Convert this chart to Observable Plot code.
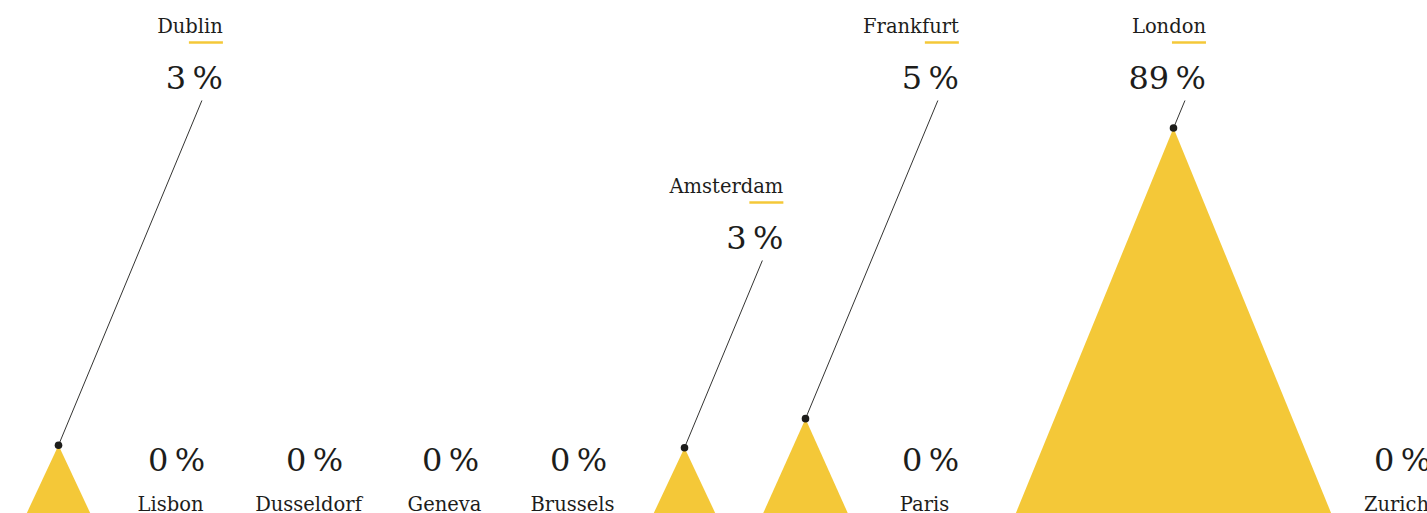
<!DOCTYPE html>
<html>
<head>
<meta charset="utf-8">
<script src="https://cdn.jsdelivr.net/npm/d3@7"></script>
<script src="https://cdn.jsdelivr.net/npm/@observablehq/plot@0.6"></script>
<style>
  html, body { margin: 0; padding: 0; background: #fff; overflow: hidden; }
  #chart svg { display: block; }
</style>
</head>
<body>
<div id="chart"></div>
<script>
// ---- data ----
const cities = ["Dublin", "Lisbon", "Dusseldorf", "Geneva", "Brussels", "Amsterdam", "Frankfurt", "Paris", "London", "Zurich"];
const shares = [2.8, 0, 0, 0, 0, 2.6, 5.4, 0, 89.2, 0];            // share in %
const track = [58, 170, 308, 444, 572, 684, 805, 924, 1173, 1396];  // position along the row
const labelTier = [1, 0, 0, 0, 0, 2, 1, 0, 1, 0];                   // 0 = label below, 1 = top row, 2 = second row

// ---- styling / layout constants ----
const W = 1427, H = 513;
const GOLD = "#F4C838";
const INK = "#1d1d1b";
const FONT = "DejaVu Serif";
const tierTop = {1: 100, 2: 260};   // leader line top (pixel rows)
const leaderSlope = 0.416;          // leader lines parallel to the triangle flank

const yScale = Plot.scale({y: {type: "sqrt", domain: [0, 158], range: [H, 0]}});

const rows = cities.map((city, i) => ({city, share: shares[i], track: track[i], tier: labelTier[i]}));
const peaks = rows.filter(d => d.share > 0).map(d => {
  const apexPx = yScale.apply(d.share);
  const topPx = tierTop[d.tier];
  return {...d, topX: d.track + leaderSlope * (apexPx - topPx), topY: yScale.invert(topPx)};
});
const flat = rows.filter(d => d.share === 0);

// triangle vertices (half base grows with sqrt of share)
const tri = peaks.flatMap(d => {
  const hw = 16.2 * Math.sqrt(d.share) + 4.8;
  return [
    {city: d.city, x: d.track - hw, y: 0},
    {city: d.city, x: d.track, y: d.share},
    {city: d.city, x: d.track + hw, y: 0}
  ];
});

const pct = d => `${Math.round(d.share)}\u2009%`;

const chart = Plot.plot({
  width: W,
  height: H,
  margin: 0,
  x: {domain: [0, W], range: [0, W], axis: null},
  y: {type: "sqrt", domain: [0, 158], range: [H, 0], axis: null},
  style: {fontFamily: FONT, color: INK, background: "#fff", overflow: "visible"},
  marks: [
    Plot.line(tri, {x: "x", y: "y", z: "city", fill: GOLD, stroke: "none", curve: "linear"}),
    Plot.link(peaks, {x1: "track", y1: "share", x2: "topX", y2: "topY", stroke: INK, strokeWidth: 0.9}),
    Plot.dot(peaks, {x: "track", y: "share", r: 3.8, fill: INK, stroke: "none"}),
    Plot.text(peaks, {x: "topX", y: "topY", text: "city", textAnchor: "end", lineAnchor: "bottom", dx: 21, dy: -68, fontSize: 19.5, fill: INK, fontFamily: FONT}),
    Plot.link(peaks, {x1: d => d.topX - 13, x2: d => d.topX + 21, y1: "topY", y2: "topY", dy: -58, stroke: GOLD, strokeWidth: 2.6}),
    Plot.text(peaks, {x: "topX", y: "topY", text: pct, textAnchor: "end", lineAnchor: "bottom", dx: 21, dy: -11.5, fontSize: 32, fill: INK, fontFamily: FONT}),
    Plot.text(flat, {x: "track", y: 0, text: pct, lineAnchor: "bottom", dx: 6, dy: -42.5, fontSize: 32, fill: INK, fontFamily: FONT}),
    Plot.text(flat, {x: "track", y: 0, text: "city", lineAnchor: "bottom", dy: -3, fontSize: 19.5, fill: INK, fontFamily: FONT})
  ]
});
document.getElementById("chart").appendChild(chart);
</script>
</body>
</html>
